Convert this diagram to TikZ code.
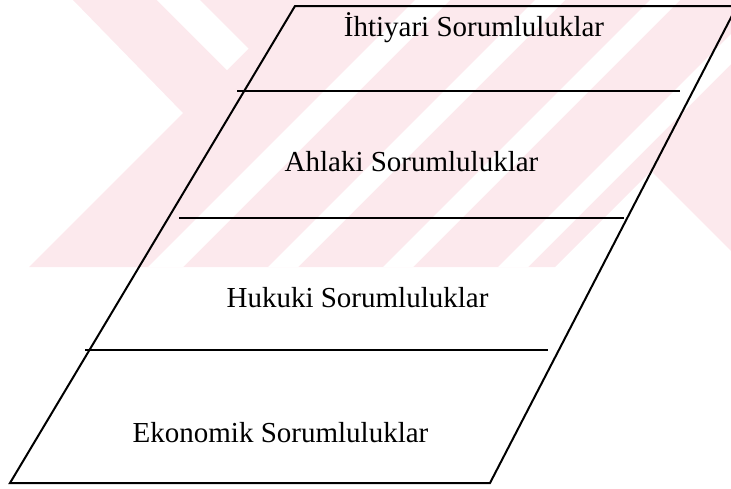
\documentclass[tikz,border=0pt]{standalone}
\usepackage{fontspec}
\setmainfont{Liberation Serif}
\definecolor{wmpink}{RGB}{252,233,237}
\begin{document}
\begin{tikzpicture}[x=1pt,y=-1pt,
  frame/.style={line width=2pt, line join=miter},
  divider/.style={line width=1.6pt},
  layer/.style={anchor=base, inner sep=0pt, font=\fontsize{29}{34}\selectfont}]
\useasboundingbox (0,0) rectangle (731,488);
% faint background emblem
\fill[wmpink] (73,0) -- (183,113) -- (29,267) -- (555,267) -- (651,171) -- (731,251) -- (731,0) -- cycle;
\fill[white] (157,0) -- (200,0) -- (248.5,48.5) -- (227,70) -- cycle;
\foreach \a/\b in {415/450, 535/565, 650/680, 765/795}
  \fill[white] (\a,0) -- (\b,0) -- ({\b-267},267) -- ({\a-267},267) -- cycle;
% outer slanted frame
\coordinate (tl) at (295,6);
\coordinate (tr) at (737,6);
\coordinate (br) at (490,483);
\coordinate (bl) at (10,483);
\draw[frame] (tl) -- (tr) -- (br) -- (bl) -- cycle;
% dividers between the layers
\coordinate (d1a) at (237,91);  \coordinate (d1b) at (680,91);
\coordinate (d2a) at (179,218); \coordinate (d2b) at (624,218);
\coordinate (d3a) at (85,350);  \coordinate (d3b) at (548,350);
\draw[divider, line width=2pt] (d1a) -- (d1b);
\draw[divider, line width=1.4pt] (d2a) -- (d2b);
\draw[divider] (d3a) -- (d3b);
% layer labels
\node[layer] (ihtiyari) at (474,36) {İhtiyari Sorumluluklar};
\node[layer] (ahlaki) at (411.5,171) {Ahlaki Sorumluluklar};
\node[layer] (hukuki) at (357.5,307) {Hukuki Sorumluluklar};
\node[layer] (ekonomik) at (280.5,442) {Ekonomik Sorumluluklar};
\end{tikzpicture}
\end{document}
